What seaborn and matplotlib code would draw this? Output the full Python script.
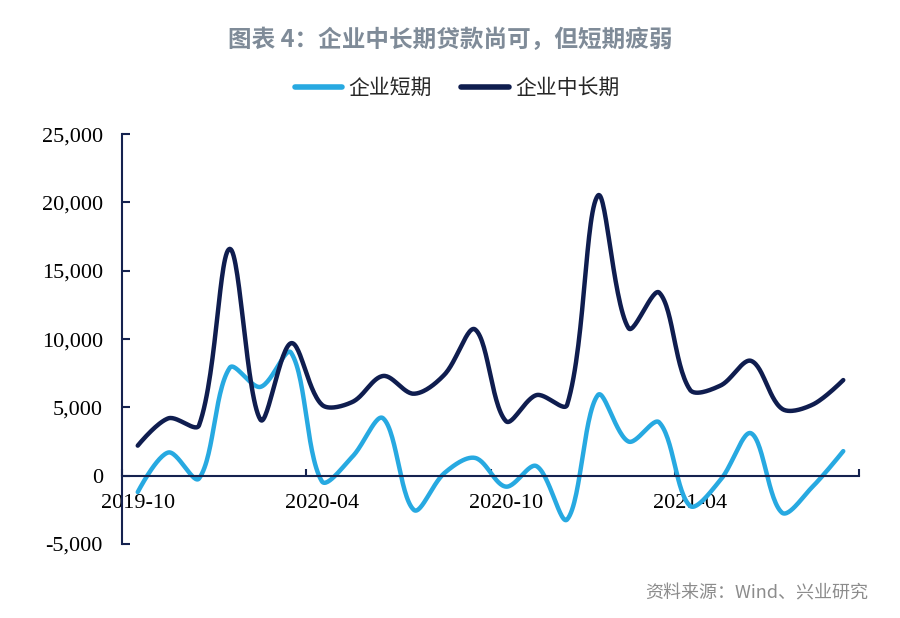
import numpy as np
import pandas as pd
import seaborn as sns
import matplotlib
matplotlib.use("Agg")
import matplotlib.pyplot as plt
from matplotlib.lines import Line2D
from matplotlib.ticker import FixedLocator, FuncFormatter

# ---- data ----
months = ["2019-10", "2019-11", "2019-12", "2020-01", "2020-02", "2020-03",
          "2020-04", "2020-05", "2020-06", "2020-07", "2020-08", "2020-09",
          "2020-10", "2020-11", "2020-12", "2021-01", "2021-02", "2021-03",
          "2021-04", "2021-05", "2021-06", "2021-07", "2021-08", "2021-09"]
short_term = [-1200, 1700, -200, 7900, 6500, 9000, -400, 1400, 4200, -2500, 200, 1300,
              -800, 700, -3200, 5900, 2500, 3900, -2200, -300, 3100, -2700, -800, 1800]
long_term = [2200, 4200, 3700, 16600, 4100, 9700, 5200, 5400, 7300, 6000, 7400, 10700,
             4000, 5900, 5200, 20500, 10800, 13400, 6300, 6600, 8400, 4900, 5200, 7000]
series_names = ["企业短期", "企业中长期"]
tick_labels = ["2019-10", "2020-04", "2020-10", "2021-04"]
y_ticks = [-5000, 0, 5000, 10000, 15000, 20000, 25000]

title = "图表 4：企业中长期贷款尚可，但短期疲弱"
source = "资料来源：Wind、兴业研究"

colors = {"企业短期": "#27a9e1", "企业中长期": "#0f1d4f"}

# approximate screen scale (px per x unit, px per y unit) used for Excel-like smoothing
PX_X = 30.68
PX_Y = 68.3 / 5000.0


def smooth(values, n=30, f=1 / 3):
    """Excel-style smoothed line: Bezier segments with distance-weighted tangents."""
    y = np.asarray(values, dtype=float)
    x = np.arange(len(y), dtype=float)
    P = np.column_stack([x * PX_X, y * PX_Y])
    m = len(P)

    def dist(a, b):
        return float(np.hypot(*(P[b] - P[a])))

    tang = []
    for i in range(m):
        a = P[i - 1] if i > 0 else P[i]
        b = P[i + 1] if i < m - 1 else P[i]
        tang.append(b - a)
    out = []
    for i in range(m - 1):
        d12 = dist(i, i + 1)
        d01 = dist(i - 1, i) if i > 0 else d12
        d23 = dist(i + 1, i + 2) if i + 2 < m else d12
        c1 = P[i] + tang[i] * f * d12 / (d01 + d12) * (1 if i > 0 else 0)
        c2 = P[i + 1] - tang[i + 1] * f * d12 / (d12 + d23) * (1 if i + 2 < m else 0)
        t = np.linspace(0, 1, n, endpoint=(i == m - 2))[:, None]
        seg = ((1 - t) ** 3) * P[i] + 3 * ((1 - t) ** 2) * t * c1 + 3 * (1 - t) * t ** 2 * c2 + t ** 3 * P[i + 1]
        out.append(seg)
    out = np.vstack(out)
    return out[:, 0] / PX_X, out[:, 1] / PX_Y


rows = []
for name, vals in zip(series_names, [short_term, long_term]):
    xs, ys = smooth(vals)
    for k, (a, b) in enumerate(zip(xs, ys)):
        rows.append({"order": k, "x": a, "y": b, "series": name})
df = pd.DataFrame(rows)

sns.set_theme(style="white")
plt.rcParams["font.family"] = ["Liberation Serif", "Noto Sans CJK SC", "DejaVu Sans"]

fig = plt.figure(figsize=(9, 6.18), dpi=100)
ax = fig.add_axes([0.136, 0.1197, 0.818, 0.6633])

sns.lineplot(data=df, x="x", y="y", hue="series", hue_order=series_names,
             palette=colors, estimator=None, sort=False, linewidth=3.2,
             legend=False, ax=ax)

ax.set_xlim(-0.5, len(months) - 0.5)
ax.set_ylim(-5000, 25000)
ax.set_xlabel("")
ax.set_ylabel("")

axis_color = "#15224f"
for s in ["top", "right"]:
    ax.spines[s].set_visible(False)
ax.spines["bottom"].set_position(("data", 0))
ax.spines["bottom"].set_color(axis_color)
ax.spines["left"].set_color(axis_color)
ax.spines["bottom"].set_linewidth(1.5)
ax.spines["left"].set_linewidth(1.5)

ax.yaxis.set_major_locator(FixedLocator(y_ticks))
ax.yaxis.set_major_formatter(FuncFormatter(lambda v, p: f"{int(v):,}"))
ax.tick_params(axis="y", direction="in", length=6, width=1.5, color=axis_color,
               labelsize=16, pad=14, labelcolor="black", left=True)

major_pos = [months.index(m) for m in tick_labels]
ax.set_xticks(major_pos)
ax.set_xticklabels(tick_labels)
ax.set_xticks([i - 0.5 for i in range(0, len(months) + 1, 6)], minor=True)
ax.tick_params(axis="x", which="major", length=0, labelsize=16, pad=13,
               labelcolor="black", bottom=True)
ax.tick_params(axis="x", which="minor", direction="in", length=5, width=1.5,
               color=axis_color, bottom=True)
for lab in ax.get_xticklabels() + ax.get_yticklabels():
    lab.set_family("Liberation Serif")

fig.text(0.5, 1 - 40 / 618, title, ha="center", va="center", fontsize=17,
         color="#7f8b98", fontweight="bold", family=["Noto Sans CJK SC", "DejaVu Sans"])

handles = [Line2D([0], [0], color=colors[n], lw=4) for n in series_names]
leg = fig.legend(handles, series_names, loc="center", bbox_to_anchor=(0.508, 1 - 88 / 618),
                 ncol=2, frameon=False, handlelength=2.3, columnspacing=1.4,
                 handletextpad=0.3, prop={"family": "Noto Sans CJK SC", "size": 15})

fig.text(868 / 900, 1 - 593 / 618, source, ha="right", va="center", fontsize=13,
         color="#8c8c8c", family=["Noto Sans CJK SC", "DejaVu Sans"])

fig.savefig("out.png", dpi=100, facecolor="white")
